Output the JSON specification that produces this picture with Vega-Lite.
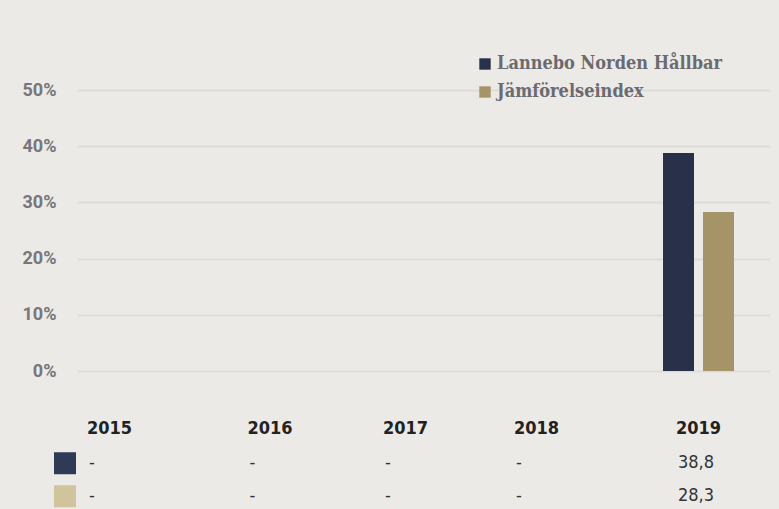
{
  "$schema": "https://vega.github.io/schema/vega-lite/v6.json",
  "background": "#ECEAE7",
  "padding": {"left": 22, "top": 55, "right": 9, "bottom": 1},
  "bounds": "flush",
  "spacing": 84,
  "config": {"view": {"stroke": null}},
  "data": {
    "values": [
      {"year": 2015, "series": "Lannebo Norden Hållbar", "value": null, "label": "-"},
      {"year": 2016, "series": "Lannebo Norden Hållbar", "value": null, "label": "-"},
      {"year": 2017, "series": "Lannebo Norden Hållbar", "value": null, "label": "-"},
      {"year": 2018, "series": "Lannebo Norden Hållbar", "value": null, "label": "-"},
      {"year": 2019, "series": "Lannebo Norden Hållbar", "value": 38.8, "label": "38,8"},
      {"year": 2015, "series": "Jämförelseindex", "value": null, "label": "-"},
      {"year": 2016, "series": "Jämförelseindex", "value": null, "label": "-"},
      {"year": 2017, "series": "Jämförelseindex", "value": null, "label": "-"},
      {"year": 2018, "series": "Jämförelseindex", "value": null, "label": "-"},
      {"year": 2019, "series": "Jämförelseindex", "value": 28.3, "label": "28,3"}
    ]
  },
  "resolve": {"scale": {"color": "independent", "x": "independent", "y": "independent"}, "legend": {"color": "independent"}},
  "vconcat": [
    {
      "width": 693,
      "height": 281,
      "encoding": {
        "x": {
          "field": "year", "type": "quantitative",
          "scale": {"domain": [2014.78, 2015, 2016, 2017, 2018, 2019, 2019.49], "range": [0, 32, 192.5, 328, 459, 621, 693], "nice": false, "zero": false},
          "axis": {
            "values": [2015, 2016, 2017, 2018, 2019], "format": "d", "title": null,
            "domain": false, "ticks": false, "tickSize": 0, "grid": false,
            "labelPadding": 62, "labelBaseline": "alphabetic",
            "labelFont": "DejaVu Sans Condensed, Liberation Sans Narrow, Roboto", "labelFontWeight": "bold",
            "labelFontSize": 18, "labelColor": "#222222", "labelFlush": false
          }
        },
        "y": {
          "field": "value", "type": "quantitative", "stack": null,
          "scale": {"domain": [0, 50], "nice": false, "zero": true},
          "axis": {
            "values": [0, 10, 20, 30, 40, 50], "labelExpr": "datum.value + '%'", "title": null,
            "domain": false, "ticks": false, "tickSize": 0, "grid": true,
            "gridColor": "#DEDCDB", "gridWidth": 2,
            "labelPadding": 21, "labelFont": "Roboto", "labelFontWeight": "bold",
            "labelFontSize": 18, "labelColor": "#77767B"
          }
        },
        "color": {
          "field": "series", "type": "nominal",
          "scale": {"domain": ["Lannebo Norden Hållbar", "Jämförelseindex"], "range": ["#283149", "#A59467"]},
          "legend": {
            "title": null, "orient": "none", "legendX": 399, "legendY": -35,
            "padding": 0, "symbolType": "square", "symbolSize": 130, "symbolStrokeWidth": 0,
            "symbolOpacity": 1, "labelOffset": 3, "rowPadding": 10,
            "labelFont": "DejaVu Serif Condensed, DejaVu Serif", "labelFontWeight": "bold",
            "labelFontSize": 18, "labelColor": "#6B6A70", "labelLimit": 400
          }
        }
      },
      "layer": [
        {
          "transform": [{"filter": "datum.series == 'Lannebo Norden Hållbar'"}],
          "mark": {"type": "bar", "orient": "vertical", "width": 31, "xOffset": -19.5}
        },
        {
          "transform": [{"filter": "datum.series == 'Jämförelseindex'"}],
          "mark": {"type": "bar", "orient": "vertical", "width": 31, "xOffset": 20.5}
        }
      ]
    },
    {
      "width": 693,
      "height": 49.5,
      "encoding": {
        "x": {
          "field": "year", "type": "quantitative",
          "scale": {"domain": [2014.78, 2015, 2016, 2017, 2018, 2019, 2019.49], "range": [0, 32, 192.5, 328, 459, 621, 693], "nice": false, "zero": false},
          "axis": null
        },
        "y": {
          "field": "series", "type": "nominal",
          "scale": {"type": "point", "domain": ["Lannebo Norden Hållbar", "Jämförelseindex"], "padding": 0.25},
          "axis": null
        }
      },
      "layer": [
        {
          "mark": {"type": "text", "align": "left", "dx": -20, "baseline": "middle",
                   "font": "DejaVu Sans Condensed, Liberation Sans Narrow, Roboto", "fontSize": 18, "color": "#333333"},
          "encoding": {"text": {"field": "label"}}
        },
        {
          "transform": [{"filter": "datum.year == 2015"}],
          "mark": {"type": "square", "size": 484, "filled": true, "opacity": 1, "xOffset": -44},
          "encoding": {
            "color": {
              "field": "series", "type": "nominal",
              "scale": {"domain": ["Lannebo Norden Hållbar", "Jämförelseindex"], "range": ["#2F3A56", "#CFC49C"]},
              "legend": null
            }
          }
        }
      ]
    }
  ]
}
